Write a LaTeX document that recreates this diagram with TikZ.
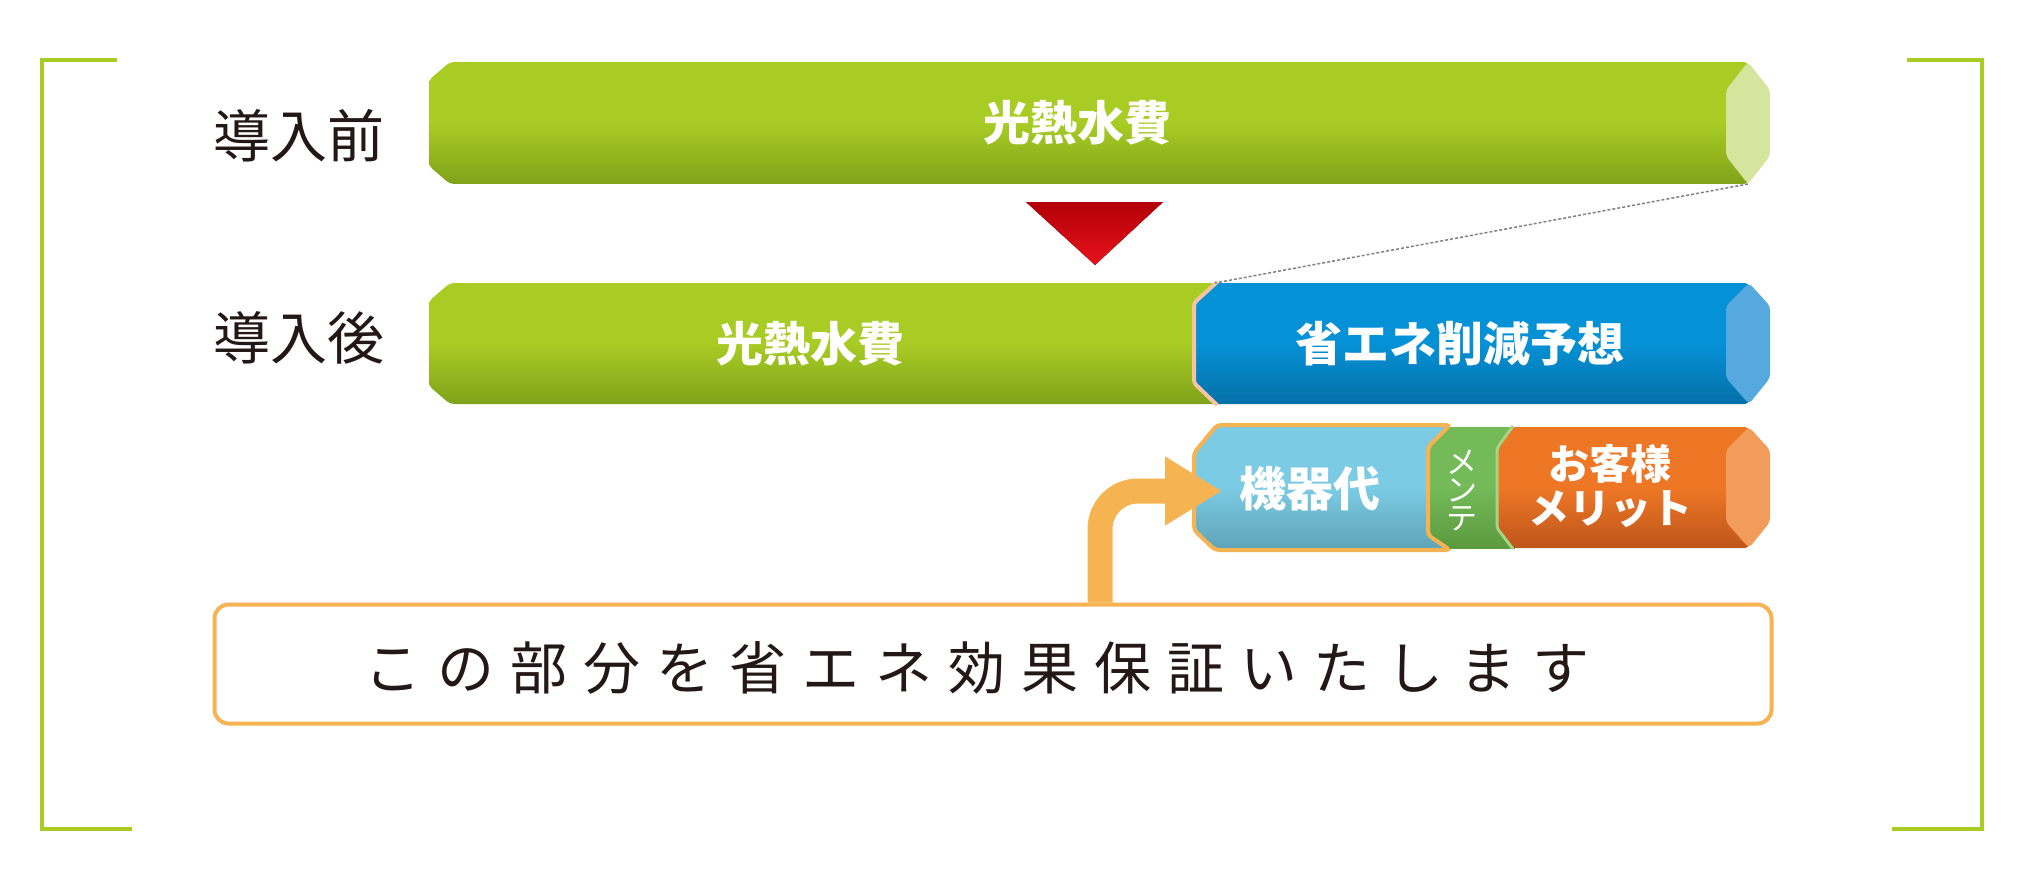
\documentclass[tikz,border=0pt]{standalone}
\usepackage{fontspec}
\newfontfamily\cjk{Noto Sans CJK JP}
\newfontfamily\cjkwide[LetterSpace=28]{Noto Sans CJK JP}
\usepackage{tikz}
\usetikzlibrary{arrows.meta, calc, positioning}
\definecolor{gruen}{HTML}{A8CC24}
\definecolor{gruendunkel}{HTML}{80A21A}
\definecolor{gruenhell}{HTML}{D6E59E}
\definecolor{blau}{HTML}{0591D6}
\definecolor{blaudunkel}{HTML}{0570A8}
\definecolor{blauhell}{HTML}{56A9DE}
\definecolor{hellblau}{HTML}{7BCBE5}
\definecolor{hellblaudunkel}{HTML}{5FA3B6}
\definecolor{mente}{HTML}{74BA58}
\definecolor{mentedunkel}{HTML}{5B9A3E}
\definecolor{mentehell}{HTML}{A5D485}
\definecolor{orange}{HTML}{EE7726}
\definecolor{orangedunkel}{HTML}{BE561A}
\definecolor{orangehell}{HTML}{F29C5B}
\definecolor{rahmen}{HTML}{F6B352}
\definecolor{pfirsich}{HTML}{F5C4A0}
\definecolor{rot}{HTML}{B30008}
\definecolor{rothell}{HTML}{E8121C}
\definecolor{schrift}{HTML}{231815}

\begin{document}
\begin{tikzpicture}[
    x=1pt, y=-1pt,
    every node/.style={font=\cjk},
    balken/.style={rounded corners=4pt},
    gruenbalken/.style={balken, top color=gruen, bottom color=gruendunkel, middle color=gruen},
    blaubalken/.style={balken, top color=blau, bottom color=blaudunkel, middle color=blau},
    kikibalken/.style={balken, top color=hellblau, bottom color=hellblaudunkel, middle color=hellblau,
      draw=rahmen, line width=4pt},
    mentebalken/.style={top color=mente, bottom color=mentedunkel, middle color=mente},
    orangebalken/.style={balken, top color=orange, bottom color=orangedunkel, middle color=orange},
    deckel/.style={balken},
    klammer/.style={draw=gruen, line width=4pt},
    label/.style={font=\cjk\fontsize{57}{60}\selectfont, text=schrift},
    balkentext/.style={font=\cjk\bfseries\fontsize{47}{50}\selectfont, text=white},
  ]
  \useasboundingbox (0,0) rectangle (2033,869);

  % Klammern
  \draw[klammer] (117,60) -- (42,60) -- (42,829) -- (132,829);
  \draw[klammer] (1907,60) -- (1982,60) -- (1982,829) -- (1892,829);

  % 導入前
  \node[label] (mae) at (299,136) {導入前};
  \path[gruenbalken] (450,62) -- (1748,62) -- (1748,184) -- (450,184)
    -- (429,166) -- (429,80) -- cycle;
  \fill[deckel, gruenhell] (1748,62) -- (1770,90) -- (1770,156) -- (1748,184)
    -- (1726,156) -- (1726,90) -- cycle;
  \node[balkentext] (kosten1) at (1077,123) {光熱水費};
  \coordinate (mae-ende) at (1748,184);

  % Pfeil nach unten
  \fill[top color=rot, bottom color=rothell] (1026,202) -- (1163,202) -- (1095,265) -- cycle;

  % 導入後
  \node[label] (ato) at (299,338) {導入後};
  \path[gruenbalken] (450,283) -- (1225,283) -- (1225,404) -- (450,404)
    -- (429,386) -- (429,301) -- cycle;
  \path[blaubalken] (1215,283) -- (1749,283) -- (1749,404) -- (1215,404)
    -- (1194,383) -- (1194,303) -- cycle;
  \draw[pfirsich, line width=4pt, rounded corners=3pt]
    (1217,282) -- (1194,303) -- (1194,383) -- (1217,405);
  \fill[deckel, blauhell] (1749,283) -- (1770,306) -- (1770,378) -- (1749,404)
    -- (1726,378) -- (1726,306) -- cycle;
  \node[balkentext] (kosten2) at (810,344) {光熱水費};
  \node[balkentext] (sakugen) at (1460,344) {省エネ削減予想};
  \coordinate (sakugen-anfang) at (1215,283);
  \draw[gray, line width=1.5pt, dash pattern=on 3pt off 2pt] (mae-ende) -- (sakugen-anfang);

  % 機器代 / メンテ / お客様メリット
  \path[mentebalken] (1425,427) rectangle (1515,548);
  \path[orangebalken] (1512,427) -- (1749,427) -- (1749,548) -- (1512,548)
    -- (1497,528) -- (1497,448) -- cycle;
  \draw[mentehell, line width=3pt, rounded corners=3pt]
    (1513,426) -- (1497,448) -- (1497,528) -- (1513,549);
  \fill[deckel, orangehell] (1749,427) -- (1770,450) -- (1770,522) -- (1749,548)
    -- (1726,522) -- (1726,450) -- cycle;
  \path[kikibalken] (1217,425) -- (1450,425) -- (1428,447) -- (1428,535)
    -- (1450,550) -- (1215,550) -- (1194,530) -- (1194,453) -- cycle;
  \node[balkentext] (kiki) at (1310,489) {機器代};
  \node[font=\cjk\fontsize{31}{28}\selectfont, text=white, align=center]
    (mente) at (1462,490) {メ\\ン\\テ};
  \node[font=\cjk\bfseries\fontsize{41}{44}\selectfont, text=white, align=center]
    (merit) at (1610,486) {お客様\\メリット};

  % Kasten unten
  \node[draw=rahmen, line width=4pt, rounded corners=14pt, fill=white,
    minimum width=1557pt, minimum height=119pt] (garantie) at (993,664) {};
  \node[text=schrift, font=\cjkwide\fontsize{57}{60}\selectfont]
    (garantie-text) at (977,668) {この部分を省エネ効果保証いたします};
  \coordinate (stiel) at (1100,0);
  \coordinate (kiki-ein) at (1222,491);
  \draw[rahmen, line width=25pt, rounded corners=38pt, -{Triangle[length=57pt, width=65pt]}]
    (garantie.north -| stiel) |- (kiki-ein);
\end{tikzpicture}
\end{document}
